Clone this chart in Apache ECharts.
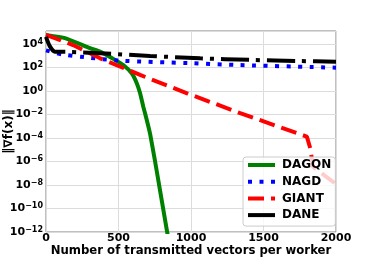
<!DOCTYPE html>
<html>
<head>
<meta charset="utf-8">
<script src="https://cdn.jsdelivr.net/npm/echarts@6/dist/echarts.min.js"></script>
<style>html,body{margin:0;padding:0;background:#fff}#c{width:374px;height:260px}</style>
</head>
<body>
<div id="c"></div>
<script>
// ---- data ----
const seriesNames = ['DAGQN', 'NAGD', 'GIANT', 'DANE'];

const dagqnX = [0, 131, 304, 373, 476, 533, 591, 626, 649, 671, 695, 718, 752, 787, 833, 850];
const dagqnY = [5.9e4, 3.1e4, 4.3e3, 2.2e3, 4.4e2, 1.6e2, 32, 4.6, 0.63, 4.6e-2, 3.4e-3, 2.2e-4, 1.05e-6, 3.2e-9, 1.5e-12, 1e-13];

const nagdX = [0, 110, 269, 511, 994, 1339, 2000];
const nagdY = [2.8e3, 1.3e3, 7.4e2, 3.8e2, 2.3e2, 1.6e2, 95];

const giantX = [0, 186, 373, 649, 973, 1339, 1799, 1822, 1842, 2000];
const giantY = [5.9e4, 8.1e3, 6.0e2, 23, 0.63, 1.3e-2, 1.3e-4, 1.4e-5, 3.4e-7, 1.2e-8];

const daneX = [0, 28, 62, 145, 373, 718, 1063, 1408, 1753, 2000];
const daneY = [4.0e4, 5.9e3, 2.2e3, 2.1e3, 1.6e3, 9.5e2, 6.0e2, 4.4e2, 3.5e2, 3.1e2];

const xTickLabels = ['0', '500', '1000', '1500', '2000'];
const yTickExponents = [-12, -10, -8, -6, -4, -2, 0, 2, 4];

// ---- build chart ----
const pairs = (xs, ys) => xs.map((x, i) => [x, Math.log10(ys[i])]);

const chart = echarts.init(document.getElementById('c'), null, {renderer: 'canvas'});
const FONT = 'DejaVu Sans';

function mkSeries(name, xs, ys, color, type, smooth) {
  return {
    name: name,
    type: 'line',
    data: pairs(xs, ys),
    showSymbol: false,
    symbol: 'none',
    smooth: smooth,
    clip: true,
    lineStyle: {color: color, width: 4, type: type, cap: 'butt'},
    itemStyle: {color: color},
    emphasis: {disabled: true},
    animation: false
  };
}

chart.setOption({
  animation: false,
  grid: {left: 46, right: 38, top: 31, bottom: 28, containLabel: false, outerBoundsMode: 'none',
    show: true, borderColor: '#808080', borderWidth: 1, backgroundColor: 'transparent'},
  xAxis: {
    type: 'value', min: 0, max: 2000, interval: 500,
    name: 'Number of transmitted vectors per worker',
    nameLocation: 'middle', nameGap: 13, nameMoveOverlap: false,
    nameTextStyle: {fontFamily: FONT, fontWeight: 'bold', fontSize: 11.7, color: '#000'},
    axisLine: {show: false},
    axisTick: {show: false},
    axisLabel: {margin: 1, fontFamily: FONT, fontWeight: 'bold', fontSize: 11, color: '#000',
      formatter: v => { const i = Math.round(v / 500); return xTickLabels[i] !== undefined ? xTickLabels[i] : ''; }},
    splitLine: {show: true, lineStyle: {color: '#dcdcdc', width: 1}}
  },
  yAxis: {
    type: 'value', min: -12, max: 5.1, interval: 2,
    name: '‖∇f(x)‖',
    nameLocation: 'middle', nameGap: 31, nameMoveOverlap: false,
    nameTextStyle: {fontFamily: FONT, fontWeight: 'bold', fontSize: 12, color: '#000'},
    axisLine: {show: false},
    axisTick: {show: false},
    axisLabel: {
      margin: 3, showMaxLabel: false,
      formatter: v => {
        const n = Math.round(v);
        if (yTickExponents.indexOf(n) < 0 || Math.abs(v - n) > 1e-6) return '';
        const s = n < 0 ? '\u2212' + Math.abs(n) : String(n);
        return '{b|10}{s|' + s + '}';
      },
      rich: {
        b: {fontFamily: FONT, fontWeight: 'bold', fontSize: 11, color: '#000', lineHeight: 13},
        s: {fontFamily: FONT, fontWeight: 'bold', fontSize: 8, color: '#000', lineHeight: 5, verticalAlign: 'top'}
      }
    },
    splitLine: {show: true, lineStyle: {color: '#dcdcdc', width: 1}}
  },
  legend: {
    show: true, orient: 'vertical', left: 243, top: 157,
    data: seriesNames,
    itemWidth: 27, itemHeight: 12, itemGap: 4.7,
    padding: [2, 4, 5, 3],
    backgroundColor: 'rgba(255,255,255,0.8)',
    borderColor: '#cccccc', borderWidth: 1, borderRadius: 3,
    itemStyle: {opacity: 0},
    lineStyle: {width: 4},
    textStyle: {fontFamily: FONT, fontWeight: 'bold', fontSize: 12, color: '#000', padding: [0, 0, 0, 2]},
    selectedMode: false
  },
  series: [
    mkSeries('DAGQN', dagqnX, dagqnY, '#008000', 'solid', 0.15),
    mkSeries('NAGD', nagdX, nagdY, '#0000ff', [4, 7.5], 0.3),
    mkSeries('GIANT', giantX, giantY, '#ff0000', [16, 7], false),
    mkSeries('DANE', daneX, daneY, '#000000', [28, 7, 4, 7], 0.3)
  ]
});
</script>
</body>
</html>
